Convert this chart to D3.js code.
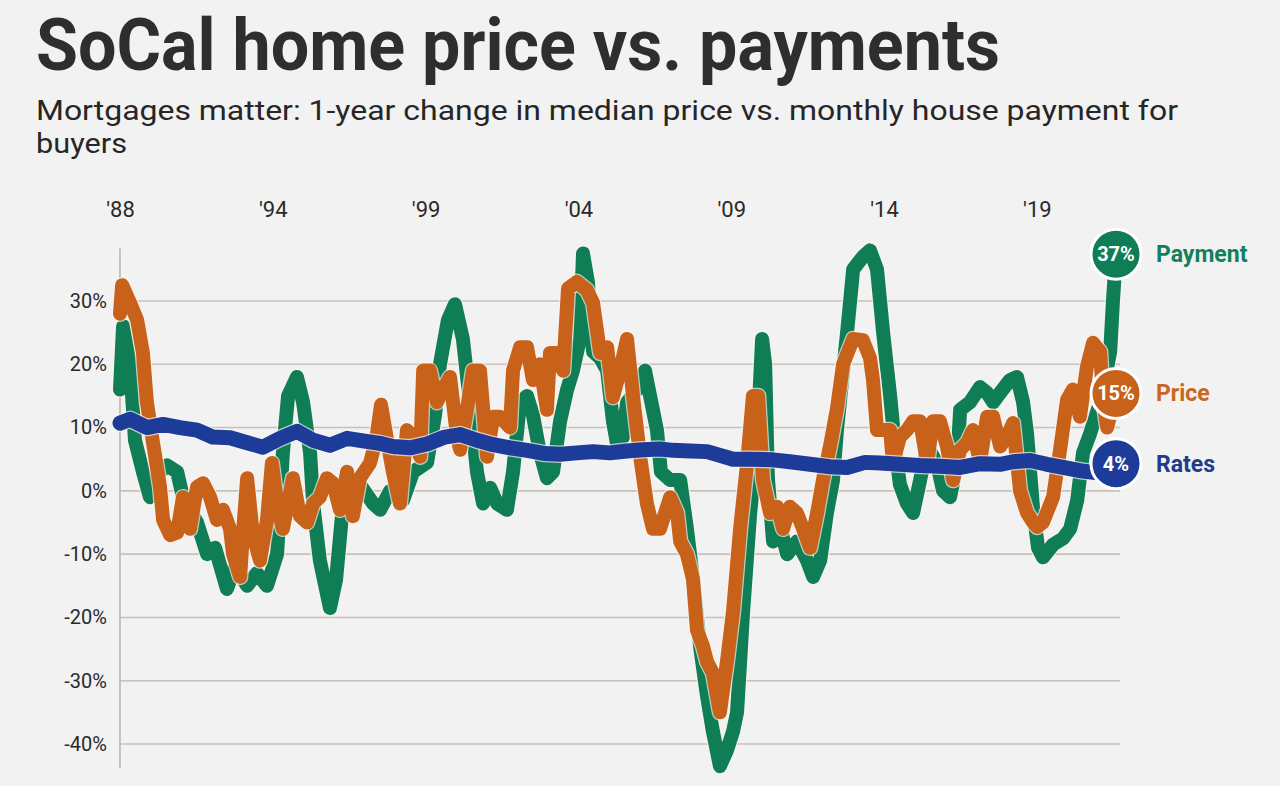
<!DOCTYPE html>
<html>
<head>
<meta charset="utf-8">
<script src="https://cdn.jsdelivr.net/npm/d3@7"></script>
<style>
  html, body { margin: 0; padding: 0; background: #f2f2f2; }
  svg { display: block; font-family: Roboto, "Liberation Sans", sans-serif; }
</style>
</head>
<body>
<script>
// ---------- Data ----------
const titleText = "SoCal home price vs. payments";
const subtitleLines = ["Mortgages matter: 1-year change in median price vs. monthly house payment for", "buyers"];

const xTickYears  = [1989, 1994, 1999, 2004, 2009, 2014, 2019];
const xTickLabels = ["'88", "'94", "'99", "'04", "'09", "'14", "'19"];
const yTicks = [30, 20, 10, 0, -10, -20, -30, -40];

const seriesNames = ["Payment", "Price", "Rates"];

// [year, % change]
const payment = [[1989.00,16],[1989.10,26],[1989.33,20],[1989.49,8],[1989.75,3],[1989.98,-1],[1990.31,3],[1990.54,4],[1990.87,3],[1991.06,-1],[1991.52,-5],[1991.85,-10],[1992.11,-9],[1992.50,-15.5],[1992.76,-12],[1993.16,-15],[1993.48,-13],[1993.81,-15],[1994.14,-10],[1994.33,6],[1994.50,15],[1994.79,18],[1994.99,14],[1995.22,6],[1995.32,-2],[1995.54,-11],[1995.87,-18.5],[1996.07,-14],[1996.30,-2],[1996.53,0],[1996.85,1],[1997.28,-2],[1997.51,-3],[1997.84,0],[1998.26,-1.5],[1998.59,3],[1999.05,4.5],[1999.31,12],[1999.47,20],[1999.73,27],[1999.96,29.5],[2000.22,24],[2000.45,14],[2000.68,3],[2000.88,-2],[2001.11,0.5],[2001.34,-2],[2001.66,-3],[2001.86,3],[2002.09,14],[2002.32,15],[2002.51,12],[2002.74,6],[2002.97,2],[2003.17,3],[2003.40,11],[2003.63,16],[2003.82,19],[2004.05,24],[2004.15,37.5],[2004.31,33],[2004.48,22],[2004.71,21],[2004.94,19],[2005.13,11],[2005.26,7.5],[2005.46,8.5],[2005.59,14],[2005.92,16],[2006.18,19],[2006.24,17.5],[2006.57,9.6],[2006.70,3],[2007.00,1.7],[2007.33,1.7],[2007.55,-6],[2007.75,-14],[2007.98,-24.6],[2008.21,-32.5],[2008.40,-38],[2008.63,-43.5],[2008.86,-41],[2009.06,-38],[2009.19,-35],[2009.39,-19],[2009.62,-3.5],[2009.84,7],[2010.01,24],[2010.11,20],[2010.20,2],[2010.37,-8],[2010.60,-5.7],[2010.83,-10],[2011.15,-8],[2011.48,-11],[2011.68,-13.6],[2011.91,-11],[2012.13,-3.5],[2012.33,1.7],[2012.46,9.6],[2012.79,25],[2012.99,35],[2013.31,37],[2013.54,38],[2013.77,35],[2013.97,25],[2014.20,15],[2014.36,7],[2014.52,1],[2014.75,-2],[2014.95,-3.5],[2015.18,1.7],[2015.41,7],[2015.73,4.4],[2015.93,0],[2016.16,-1],[2016.39,4.4],[2016.49,12.8],[2016.81,14],[2017.14,16.4],[2017.37,15.5],[2017.57,14],[2017.80,15.5],[2018.12,17.5],[2018.35,18],[2018.55,14],[2018.68,9],[2018.88,-3],[2019.04,-9],[2019.20,-10.5],[2019.53,-8.5],[2019.86,-7.5],[2020.09,-6],[2020.32,-1.5],[2020.51,6],[2020.74,9],[2021.07,14],[2021.30,19.5],[2021.40,22],[2021.49,30],[2021.59,37.4]];

const price = [[1989.00,28],[1989.07,32.5],[1989.33,29.7],[1989.56,27],[1989.75,21.8],[1989.88,14],[1990.08,7.6],[1990.31,0.6],[1990.41,-4.6],[1990.64,-7],[1990.87,-6.6],[1991.06,-1],[1991.29,-6],[1991.52,0.6],[1991.72,1.2],[1991.95,-1],[1992.17,-4.6],[1992.37,-3],[1992.60,-6],[1992.70,-10],[1992.93,-13.6],[1993.02,-7],[1993.16,2],[1993.35,-7],[1993.58,-11],[1993.81,-4.6],[1993.97,4.4],[1994.14,-2],[1994.33,-6],[1994.66,2],[1994.89,-4],[1995.12,-5],[1995.32,-2],[1995.54,-1],[1995.77,2],[1995.97,1.2],[1996.20,-3],[1996.43,3],[1996.62,-4],[1996.85,2],[1997.18,4.4],[1997.38,8],[1997.54,13.6],[1997.74,8],[1997.93,3],[1998.16,-2],[1998.39,9.6],[1998.59,8.5],[1998.82,5.4],[1998.92,19],[1999.14,19],[1999.37,14],[1999.57,16],[1999.80,18],[2000.03,8.5],[2000.13,6.5],[2000.35,12.8],[2000.55,19],[2000.78,19],[2001.01,5.4],[2001.21,11.7],[2001.43,11.7],[2001.76,10],[2001.86,19],[2002.09,22.7],[2002.32,22.7],[2002.51,17.5],[2002.74,20],[2002.97,12.8],[2003.07,21.8],[2003.30,21.8],[2003.50,19],[2003.66,32],[2003.95,33],[2004.28,31.7],[2004.48,29.7],[2004.71,21.8],[2004.94,22.7],[2005.13,14.8],[2005.36,19],[2005.59,24],[2005.79,14.8],[2006.02,5.4],[2006.24,-2],[2006.44,-6],[2006.67,-6],[2007.00,-1],[2007.23,-3.5],[2007.33,-8],[2007.55,-10],[2007.75,-14],[2007.88,-22],[2008.08,-24.6],[2008.21,-27],[2008.40,-28.8],[2008.63,-35],[2008.86,-27],[2009.06,-19],[2009.29,-6],[2009.52,4.4],[2009.71,15],[2009.88,15],[2010.04,1.7],[2010.27,-3.5],[2010.50,-2.5],[2010.70,-6],[2010.92,-2.5],[2011.15,-3.5],[2011.35,-6],[2011.58,-9],[2011.81,-3.5],[2012.00,1.7],[2012.23,7],[2012.46,13],[2012.66,20],[2012.99,24],[2013.31,23.8],[2013.54,21],[2013.64,17.5],[2013.77,9.6],[2014.20,9.6],[2014.29,4.4],[2014.52,8.5],[2014.75,9.6],[2014.95,11],[2015.18,11],[2015.41,4.4],[2015.60,11],[2015.83,11],[2016.06,7],[2016.26,1.7],[2016.49,6.5],[2016.72,7.6],[2016.91,9.6],[2017.14,4.4],[2017.37,11.7],[2017.57,11.7],[2017.80,7],[2018.12,9.6],[2018.22,10.7],[2018.45,0],[2018.68,-3.5],[2018.88,-5],[2019.01,-5.7],[2019.20,-5],[2019.53,-1],[2019.76,6.5],[2019.99,14.4],[2020.18,16],[2020.41,11.7],[2020.64,19.6],[2020.84,23.4],[2021.07,22],[2021.17,14.4],[2021.30,10],[2021.59,15.4]];

const rates = [[1989.00,10.7],[1989.33,11.3],[1989.88,10],[1990.41,10.5],[1990.96,10],[1991.52,9.6],[1992.04,8.5],[1992.60,8.4],[1993.16,7.6],[1993.68,6.9],[1994.24,8.3],[1994.79,9.4],[1995.32,8],[1995.87,7.2],[1996.43,8.3],[1996.95,7.9],[1997.51,7.5],[1997.93,7],[1998.49,6.8],[1999.05,7.4],[1999.63,8.5],[2000.13,8.9],[2000.68,8],[2001.21,7.3],[2001.76,6.8],[2002.32,6.4],[2002.91,5.9],[2003.40,5.8],[2003.95,6],[2004.48,6.2],[2005.03,6],[2005.59,6.3],[2006.11,6.5],[2006.67,6.6],[2007.10,6.4],[2007.65,6.3],[2008.21,6.2],[2008.63,5.6],[2009.06,5],[2009.62,5],[2010.37,4.9],[2010.92,4.6],[2011.58,4.2],[2012.23,3.8],[2012.79,3.7],[2013.38,4.5],[2013.87,4.4],[2014.52,4.2],[2015.18,4],[2015.83,3.9],[2016.49,3.7],[2017.14,4.3],[2017.80,4.2],[2018.22,4.6],[2018.78,4.8],[2019.33,4.2],[2019.86,3.7],[2020.41,3.2],[2020.70,3.0],[2020.91,2.9],[2021.59,4.3]];

// ---------- Styles ----------
const colors = { Payment: "#0f7d56", Price: "#c8621b", Rates: "#1d3c9a" };
const labelColors = { Payment: "#12805a", Price: "#c9661f", Rates: "#213c8f" };
const widths = { Payment: 14, Price: 14, Rates: 15 };

const W = 1280, H = 786;
const svg = d3.select("body").append("svg").attr("width", W).attr("height", H);

// Title & subtitle
svg.append("text").attr("x", 36).attr("y", 70)
  .attr("font-size", 72).attr("font-weight", 700).attr("fill", "#2e2e2e")
  .attr("textLength", 964).attr("lengthAdjust", "spacingAndGlyphs")
  .text(titleText);
const subLens = [1142, 91];
subtitleLines.forEach((t, i) => {
  svg.append("text").attr("x", 36).attr("y", 120 + i * 33)
    .attr("font-size", 28).attr("font-weight", 400).attr("fill", "#262626")
    .attr("textLength", subLens[i]).attr("lengthAdjust", "spacingAndGlyphs")
    .text(t);
});

// Scales
const allSeries = { Payment: payment, Price: price, Rates: rates };
const xMin = d3.min(payment, d => d[0]);
const xMax = d3.max(payment, d => d[0]);
const x = d3.scaleLinear().domain([xMin, xMax]).range([120, 1116]);
const y = d3.scaleLinear().domain([-40, 30]).range([744, 301]);

// Gridlines
const gridEnd = x(xMax) + 4;
svg.append("g").selectAll("line").data(yTicks).join("line")
  .attr("x1", x(xMin)).attr("x2", gridEnd)
  .attr("y1", d => y(d)).attr("y2", d => y(d))
  .attr("stroke", "#c9c0b6").attr("stroke-width", 1.6);

// Vertical axis line spanning data extent
const allVals = [].concat(payment, price, rates).map(d => d[1]);
svg.append("line")
  .attr("x1", x(xMin)).attr("x2", x(xMin))
  .attr("y1", y(d3.max(allVals)) - 2).attr("y2", y(d3.min(allVals)) + 2)
  .attr("stroke", "#bdb6ae").attr("stroke-width", 1.6);

// Axes
const yAxis = svg.append("g").attr("transform", `translate(${x(xMin)},0)`)
  .call(d3.axisLeft(y).tickValues(yTicks).tickFormat(d => d + "%").tickSize(0).tickPadding(13));
yAxis.select(".domain").remove();
yAxis.selectAll("text").attr("font-size", 20).attr("fill", "#2a2a2a")
  .attr("font-family", "Roboto, sans-serif");

const xAxis = svg.append("g").attr("transform", "translate(0,217)")
  .call(d3.axisTop(x).tickValues(xTickYears).tickFormat((d, i) => xTickLabels[i]).tickSize(0).tickPadding(0));
xAxis.select(".domain").remove();
xAxis.selectAll("text").attr("font-size", 22).attr("fill", "#2a2a2a")
  .attr("font-family", "Roboto, sans-serif");

// Lines
const line = d3.line().x(d => x(d[0])).y(d => y(d[1])).curve(d3.curveLinear);
const linesG = svg.append("g");
seriesNames.forEach(name => {
  const data = allSeries[name];
  linesG.append("path").datum(data).attr("d", line)
    .attr("fill", "none").attr("stroke", "#fbf4ec").attr("stroke-opacity", 0.7)
    .attr("stroke-width", widths[name] + 2.5)
    .attr("stroke-linejoin", "round").attr("stroke-linecap", "round");
  linesG.append("path").datum(data).attr("d", line)
    .attr("fill", "none").attr("stroke", colors[name])
    .attr("stroke-width", widths[name])
    .attr("stroke-linejoin", "round").attr("stroke-linecap", "round");
});

// End labels
const endG = svg.append("g");
seriesNames.forEach(name => {
  const data = allSeries[name];
  const last = data[data.length - 1];
  const cx = x(last[0]), cy = y(last[1]);
  endG.append("circle").attr("cx", cx).attr("cy", cy).attr("r", 25)
    .attr("fill", colors[name]).attr("stroke", "#ffffff").attr("stroke-width", 3);
  endG.append("text").attr("x", cx).attr("y", cy + 7)
    .attr("text-anchor", "middle").attr("font-size", 20).attr("font-weight", 700)
    .attr("fill", "#ffffff").text(Math.round(last[1]) + "%");
  endG.append("text").attr("x", cx + 40).attr("y", cy + 8)
    .attr("font-size", 23).attr("font-weight", 700)
    .attr("fill", labelColors[name]).text(name);
});
</script>
</body>
</html>
